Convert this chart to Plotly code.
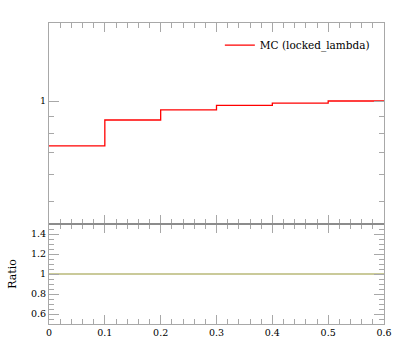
import plotly.graph_objects as go
from plotly.subplots import make_subplots

bin_edges = [0.0, 0.1, 0.2, 0.3, 0.4, 0.5, 0.6]
mc_values = [0.733, 0.877, 0.94, 0.97, 0.986, 1.0]
ratio_values = [1, 1, 1, 1, 1, 1]
series_name = "MC (locked_lambda)"
ratio_ticks = [0.6, 0.8, 1.0, 1.2, 1.4]
ratio_ticklabels = ["0.6", "0.8", "1", "1.2", "1.4"]
x_ticks = [0, 0.1, 0.2, 0.3, 0.4, 0.5, 0.6]
x_ticklabels = ["0", "0.1", "0.2", "0.3", "0.4", "0.5", "0.6"]

FONT = "DejaVu Serif, Liberation Serif, serif"
frame = "#a8a8a8"

fig = make_subplots(rows=2, cols=1, shared_xaxes=True, vertical_spacing=0,
                    row_heights=[201, 100])

xs = bin_edges
ys = mc_values + [mc_values[-1]]
fig.add_trace(go.Scatter(x=xs, y=ys, mode="lines", line=dict(color="#ff0000", width=1.3, shape="hv"),
                         name=series_name, showlegend=True), row=1, col=1)
fig.add_trace(go.Scatter(x=xs, y=ratio_values + [ratio_values[-1]], mode="lines",
                         line=dict(color="#b8b878", width=1.3, shape="hv"), showlegend=False),
              row=2, col=1)

common_x = dict(range=[0, 0.6], showgrid=False, zeroline=False, showline=True, linecolor=frame,
                linewidth=1, mirror="ticks", ticks="inside", ticklen=9, tickcolor=frame,
                tickvals=x_ticks, minor=dict(dtick=0.02, ticks="inside", ticklen=5, tickcolor=frame))
fig.update_xaxes(**common_x, row=1, col=1, showticklabels=False)
fig.update_xaxes(**common_x, row=2, col=1, ticktext=x_ticklabels,
                 tickfont=dict(family=FONT, size=9.5, color="#000"))

fig.update_yaxes(type="log", range=[-0.369, 0.234], showgrid=False, zeroline=False, showline=True,
                 linecolor=frame, mirror="ticks", ticks="inside", ticklen=10, tickcolor=frame,
                 tickvals=[1], ticktext=["1"], tickfont=dict(family=FONT, size=9.5, color="#000"),
                 minor=dict(tickvals=[0.5, 0.6, 0.7, 0.8, 0.9], ticks="inside", ticklen=5,
                            tickcolor=frame),
                 row=1, col=1)
fig.update_yaxes(range=[0.5, 1.5], showgrid=False, zeroline=False, showline=True,
                 linecolor=frame, mirror="ticks", ticks="inside", ticklen=10, tickcolor=frame,
                 tickvals=ratio_ticks, ticktext=ratio_ticklabels,
                 tickfont=dict(family=FONT, size=9.5, color="#000"),
                 minor=dict(dtick=0.05, ticks="inside", ticklen=5, tickcolor=frame),
                 title=dict(text="Ratio", font=dict(family=FONT, size=11, color="#000"), standoff=12),
                 row=2, col=1)

# separator line between panels
fig.add_shape(type="line", xref="x domain", yref="y2 domain", x0=0, x1=1, y0=1, y1=1,
              line=dict(color="#707070", width=1))

fig.update_layout(width=397, height=358, margin=dict(l=49, r=13, t=23, b=34, autoexpand=False),
                  paper_bgcolor="white", plot_bgcolor="white",
                  legend=dict(x=0.51, y=0.975, xanchor="left", yanchor="top",
                              bgcolor="rgba(0,0,0,0)",
                              font=dict(family=FONT, size=10.5, color="#000")))
fig.write_html("out.html", config={"displayModeBar": False},
               post_script="document.body.style.margin='0';document.body.style.overflow='hidden';")
